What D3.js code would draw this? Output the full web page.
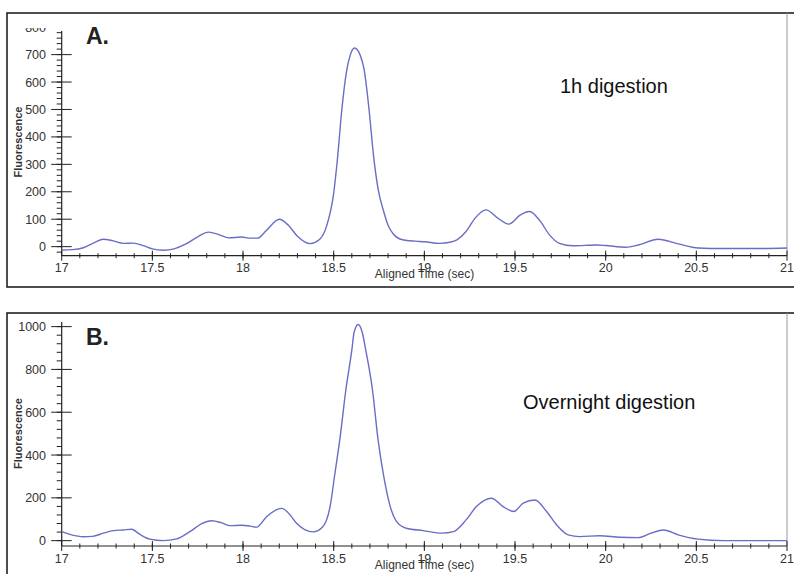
<!DOCTYPE html>
<html>
<head>
<meta charset="utf-8">
<script src="https://cdn.jsdelivr.net/npm/d3@7"></script>
<style>
  body { margin: 0; background: #fff; }
  svg { display: block; font-family: "Liberation Sans", Arial, sans-serif; }
</style>
</head>
<body>
<div id="chart"></div>
<script>
// Data
const timesA = [17.00, 17.06, 17.12, 17.18, 17.23, 17.28, 17.34, 17.395, 17.45, 17.50, 17.56, 17.62, 17.68, 17.75, 17.81, 17.87, 17.92, 17.99, 18.04, 18.08, 18.13, 18.20, 18.25, 18.30, 18.37, 18.42, 18.46, 18.50, 18.52, 18.545, 18.571, 18.592, 18.615, 18.645, 18.668, 18.695, 18.72, 18.745, 18.775, 18.80, 18.83, 18.88, 18.95, 19.00, 19.085, 19.14, 19.18, 19.23, 19.28, 19.34, 19.405, 19.465, 19.53, 19.58, 19.64, 19.69, 19.745, 19.82, 19.95, 20.00, 20.11, 20.18, 20.29, 20.40, 20.51, 20.65, 20.80, 21.00];
const fluorA = [-12, -11, -4, 15, 27, 22, 12, 13, 4, -8, -13, -8, 8, 36, 53, 43, 32, 35, 31, 31, 60, 100, 78, 38, 11, 25, 73, 195, 315, 500, 640, 700, 724, 700, 645, 500, 330, 210, 130, 78, 45, 25, 20, 18, 12, 16, 25, 55, 104, 134, 104, 82, 116, 128, 92, 43, 12, 3, 6, 4, -2, 6, 27, 10, -5, -7, -7, -5];

const timesB = [17.00, 17.05, 17.12, 17.17, 17.23, 17.285, 17.34, 17.386, 17.43, 17.487, 17.56, 17.634, 17.707, 17.77, 17.827, 17.88, 17.93, 17.99, 18.04, 18.075, 18.13, 18.213, 18.26, 18.295, 18.34, 18.387, 18.44, 18.48, 18.507, 18.535, 18.567, 18.60, 18.613, 18.635, 18.657, 18.677, 18.714, 18.745, 18.773, 18.81, 18.847, 18.90, 18.993, 19.10, 19.16, 19.23, 19.287, 19.37, 19.434, 19.493, 19.545, 19.61, 19.674, 19.73, 19.793, 19.857, 19.967, 20.077, 20.18, 20.25, 20.32, 20.40, 20.51, 20.65, 20.80, 21.00];
const fluorB = [42, 28, 18, 20, 35, 47, 50, 53, 30, 7, 0, 8, 42, 78, 93, 84, 70, 72, 68, 63, 112, 151, 120, 81, 52, 41, 65, 159, 315, 480, 704, 890, 975, 1010, 975, 890, 704, 470, 315, 165, 89, 58, 47, 35, 42, 97, 159, 198, 159, 136, 175, 190, 136, 73, 27, 19, 23, 16, 14, 35, 50, 27, 7, 0, 0, 0];

const xTicks = [17, 17.5, 18, 18.5, 19, 19.5, 20, 20.5, 21];
const yTicksA = [0, 100, 200, 300, 400, 500, 600, 700, 800];
const yTicksB = [0, 200, 400, 600, 800, 1000];

const panels = [
  { id: "a", letter: "A.", note: "1h digestion", times: timesA, values: fluorA, ticks: yTicksA,
    minorStep: 20, box: 13, top: 28, axisTop: 31, axisY: 255.7, yDomain: [-33, 797],
    letterY: 44, noteX: 560, noteY: 93, titleY: 277.5, labelY: 142 },
  { id: "b", letter: "B.", note: "Overnight digestion", times: timesB, values: fluorB, ticks: yTicksB,
    minorStep: 40, box: 313, top: 321.7, axisTop: 321.7, axisY: 546, yDomain: [-25, 1023],
    letterY: 345, noteX: 523, noteY: 408.5, titleY: 569, labelY: 433.5 }
];

const W = 794, H = 574;
const left = 61.7, right = 787;

const svg = d3.select("#chart").append("svg")
  .attr("width", W)
  .attr("height", H);

const x = d3.scaleLinear().domain([17, 21]).range([left, right]);

panels.forEach(p => {
  const y = d3.scaleLinear().domain(p.yDomain).range([p.axisY, p.top]);
  const g = svg.append("g");

  // panel frame
  g.append("rect")
    .attr("x", 7).attr("y", p.box)
    .attr("width", W + 10).attr("height", 274)
    .attr("fill", "none")
    .attr("stroke", "#222")
    .attr("stroke-width", 1.6);

  // right edge of plot area
  g.append("line")
    .attr("x1", right).attr("x2", right)
    .attr("y1", p.box).attr("y2", p.axisY)
    .attr("stroke", "#999");

  // clip for the y axis (the top label is cut off in panel A)
  svg.append("clipPath").attr("id", "clip-" + p.id)
    .append("rect")
    .attr("x", 0).attr("y", p.top)
    .attr("width", W).attr("height", p.axisY - p.top + 40);

  const yAxis = g.append("g").attr("clip-path", `url(#clip-${p.id})`);

  yAxis.append("line")
    .attr("x1", left).attr("x2", left)
    .attr("y1", p.axisTop).attr("y2", p.axisY)
    .attr("stroke", "#222").attr("stroke-width", 1.2);

  const minor = d3.range(Math.ceil(p.yDomain[0] / p.minorStep) * p.minorStep, p.yDomain[1], p.minorStep);
  yAxis.selectAll(".ymin")
    .data(minor)
    .join("line")
    .attr("x1", left - 5).attr("x2", left)
    .attr("y1", d => y(d)).attr("y2", d => y(d))
    .attr("stroke", "#222");

  yAxis.selectAll(".ymaj")
    .data(p.ticks)
    .join("line")
    .attr("x1", left - 10.5).attr("x2", left + 10)
    .attr("y1", d => y(d)).attr("y2", d => y(d))
    .attr("stroke", "#222");

  yAxis.selectAll(".ylab")
    .data(p.ticks)
    .join("text")
    .attr("x", 46)
    .attr("y", d => y(d) + 4.5)
    .attr("text-anchor", "end")
    .style("font-size", "12.5px")
    .attr("fill", "#333")
    .text(d => d);

  // x axis
  g.append("line")
    .attr("x1", left).attr("x2", right)
    .attr("y1", p.axisY).attr("y2", p.axisY)
    .attr("stroke", "#222").attr("stroke-width", 1.2);

  g.selectAll(".xmin")
    .data(d3.range(171, 210).map(d => d / 10))
    .join("line")
    .attr("x1", d => x(d)).attr("x2", d => x(d))
    .attr("y1", p.axisY - 2.5).attr("y2", p.axisY + 2.5)
    .attr("stroke", "#222");

  g.selectAll(".xmaj")
    .data(xTicks)
    .join("line")
    .attr("x1", d => x(d)).attr("x2", d => x(d))
    .attr("y1", p.axisY - 5).attr("y2", p.axisY + 5)
    .attr("stroke", "#222");

  g.selectAll(".xlab")
    .data(xTicks)
    .join("text")
    .attr("x", d => x(d))
    .attr("y", p.axisY + 16.5)
    .attr("text-anchor", "middle")
    .style("font-size", "12.5px")
    .attr("fill", "#333")
    .text(d => d);

  // axis titles (overlapping the "19" label, as in the original)
  g.append("text")
    .attr("x", 424.5)
    .attr("y", p.titleY)
    .attr("text-anchor", "middle")
    .style("font-size", "12px")
    .attr("fill", "#333")
    .text("Aligned Time (sec)");

  g.append("text")
    .attr("transform", `translate(22,${p.labelY}) rotate(-90)`)
    .attr("text-anchor", "middle")
    .style("font-size", "11px")
    .style("font-weight", "bold")
    .attr("fill", "#333")
    .text("Fluorescence");

  // trace
  const pts = p.times.map((t, i) => [t, p.values[i]]);
  g.append("path")
    .datum(pts)
    .attr("fill", "none")
    .attr("stroke", "#6a6cc6")
    .attr("stroke-width", 1.4)
    .attr("d", d3.line()
      .x(d => x(d[0]))
      .y(d => y(d[1]))
      .curve(d3.curveMonotoneX));

  // panel letter and note
  g.append("text")
    .attr("x", 86)
    .attr("y", p.letterY)
    .style("font-size", "23px")
    .style("font-weight", "bold")
    .attr("fill", "#222")
    .text(p.letter);

  g.append("text")
    .attr("x", p.noteX)
    .attr("y", p.noteY)
    .style("font-size", "20px")
    .attr("fill", "#111")
    .text(p.note);
});
</script>
</body>
</html>
